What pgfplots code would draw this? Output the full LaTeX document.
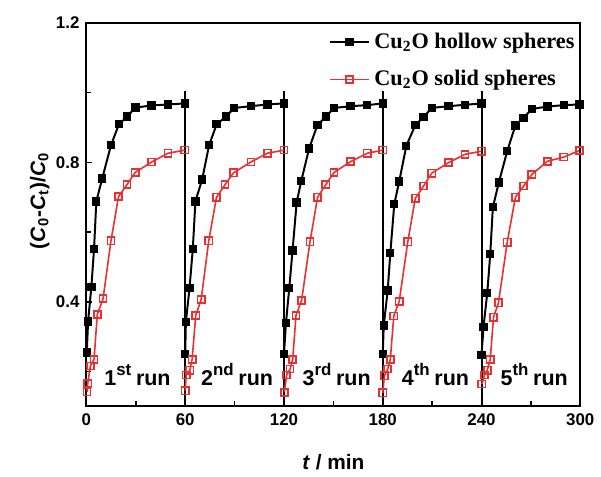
\documentclass[border=0pt]{standalone}
\usepackage{fontspec}
\setmainfont{Liberation Sans}
\newfontfamily\legfont{Liberation Serif}
\usepackage{pgfplots}
\pgfplotsset{compat=1.18}
\definecolor{solidred}{RGB}{232,48,48}
\newcommand{\runlab}[2]{#1\raisebox{0.95ex}{\fontsize{8.5}{10}\selectfont #2}\hspace{0.22em}run}

\begin{document}
\begin{tikzpicture}
\begin{axis}[
  width=248.5pt, height=193pt, scale only axis,
  xmin=0, xmax=300, ymin=0.1, ymax=1.2,
  xtick={0,60,...,300}, minor xtick={30,90,...,270},
  ytick={0.4,0.8,1.2}, minor ytick={0.2,0.6,1.0},
  tick align=inside, xtick pos=left, ytick pos=left,
  major tick length=3pt, minor tick length=2.5pt,
  axis line style={line width=1pt},
  every tick/.style={black, line width=0.8pt},
  tick label style={font=\fontsize{8.5}{10}\selectfont\bfseries},
  /pgf/number format/assume math mode=true,
  yticklabel style={/pgf/number format/fixed, /pgf/number format/precision=1, /pgf/number format/fixed zerofill},
  xlabel={\textit{t} / min},
  ylabel={(\textit{C}\textsubscript{0}-\textit{C}\textsubscript{t})/\textit{C}\textsubscript{0}},
  label style={font=\fontsize{10.5}{12}\selectfont\bfseries},
  xlabel style={at={(axis description cs:0.5,0)}, anchor=center, yshift=-28pt},
  ylabel style={at={(axis description cs:-0.0946,0.536)}, anchor=center},
  unbounded coords=jump,
  legend style={at={(rel axis cs:0.997,0.9855)}, anchor=north east, draw=none, fill=none,
    font=\legfont\fontsize{11.2}{13}\selectfont\bfseries, row sep=5.5pt, inner sep=0pt},
  legend cell align=left,
  legend image code/.code={\draw[mark repeat=2,mark phase=2,#1] plot coordinates {(0cm,0cm)(0.35cm,0cm)(0.7cm,0cm)};},
]
% run separators
\addplot[black, line width=1pt, forget plot] coordinates {
  (60,0.1)(60,1.005)(60,nan)(120,0.1)(120,1.005)(120,nan)
  (180,0.1)(180,1.005)(180,nan)(240,0.1)(240,1.005)};

% Cu2O hollow spheres
\addplot[black, line width=1pt, mark=square*, mark size=1.6pt] coordinates {
  (0.2,0.255)(1,0.344)(3,0.443)(4.6,0.551)(6,0.688)(9.6,0.754)(14.9,0.849)(19.7,0.909)(24.7,0.931)(29.7,0.957)(39.6,0.963)(49.6,0.966)(60,0.969)
  (60,nan)
  (60,0.251)(60.4,0.342)(62.6,0.439)(64.6,0.551)(66.2,0.688)(70.3,0.751)(74.5,0.849)(79.1,0.909)(84.7,0.931)(89.8,0.956)(99.9,0.961)(109.9,0.966)(120,0.969)
  (120,nan)
  (120,0.251)(121.2,0.339)(123.2,0.439)(125.2,0.547)(127.7,0.685)(130.5,0.747)(135.3,0.84)(140.3,0.907)(145.4,0.931)(150.4,0.956)(160.5,0.961)(170.6,0.964)(180,0.969)
  (180,nan)
  (180,0.25)(180.6,0.332)(183,0.432)(184.6,0.54)(187,0.68)(190,0.745)(194.3,0.847)(199.8,0.907)(204.8,0.93)(209.8,0.956)(219.9,0.961)(230,0.965)(240,0.969)
  (240,nan)
  (240,0.247)(241.2,0.328)(243.5,0.426)(245.3,0.537)(246.9,0.671)(250.5,0.742)(255.6,0.832)(260.6,0.906)(265.6,0.928)(270.6,0.953)(280,0.96)(290,0.964)(299.5,0.966)
};
\addlegendentry{Cu\textsubscript{2}O hollow spheres}

% Cu2O solid spheres
\addplot[solidred, line width=0.8pt, mark=square, mark size=1.8pt, mark options={fill=white}] coordinates {
  (0.4,0.142)(0.8,0.166)(2.4,0.216)(4.6,0.235)(6.6,0.364)(10.1,0.409)(14.9,0.575)(19.5,0.702)(24.6,0.736)(29.6,0.771)(39.6,0.801)(49.6,0.826)(59.7,0.835)
  (60,nan)
  (60,0.145)(60.6,0.19)(62.8,0.204)(64.2,0.235)(66.4,0.361)(69.7,0.407)(74.3,0.575)(79,0.70)(84.2,0.736)(89.4,0.77)(99.9,0.801)(109.9,0.826)(120,0.835)
  (120,nan)
  (120.2,0.14)(121.6,0.19)(123.7,0.207)(125.3,0.235)(127.3,0.361)(130.7,0.404)(135.8,0.572)(140.4,0.70)(145.4,0.736)(150.4,0.771)(160.5,0.802)(170.6,0.826)(180,0.835)
  (180,nan)
  (180,0.139)(181,0.188)(183,0.207)(184.6,0.235)(186.7,0.359)(190,0.401)(195.2,0.572)(199.8,0.697)(204.8,0.732)(209.8,0.769)(219.9,0.799)(230,0.823)(240,0.832)
  (240,nan)
  (240.2,0.164)(241.8,0.19)(243.5,0.204)(245.3,0.235)(247.3,0.356)(250.3,0.397)(255.6,0.571)(260.6,0.70)(265.6,0.732)(270.5,0.765)(280,0.803)(290,0.815)(299.5,0.834)
};
\addlegendentry{Cu\textsubscript{2}O solid spheres}

\begin{scope}[every node/.style={anchor=base, font=\fontsize{10.8}{13}\selectfont\bfseries}]
\node at (axis cs:31,0.159) {\runlab{1}{st}};
\node at (axis cs:91.5,0.159) {\runlab{2}{nd}};
\node at (axis cs:152,0.159) {\runlab{3}{rd}};
\node at (axis cs:212,0.159) {\runlab{4}{th}};
\node at (axis cs:272,0.159) {\runlab{5}{th}};
\end{scope}
\end{axis}
\path (current axis.south west) ++(-43.5pt,-31pt) rectangle ++(300.5pt,235.5pt);
\end{tikzpicture}
\end{document}
